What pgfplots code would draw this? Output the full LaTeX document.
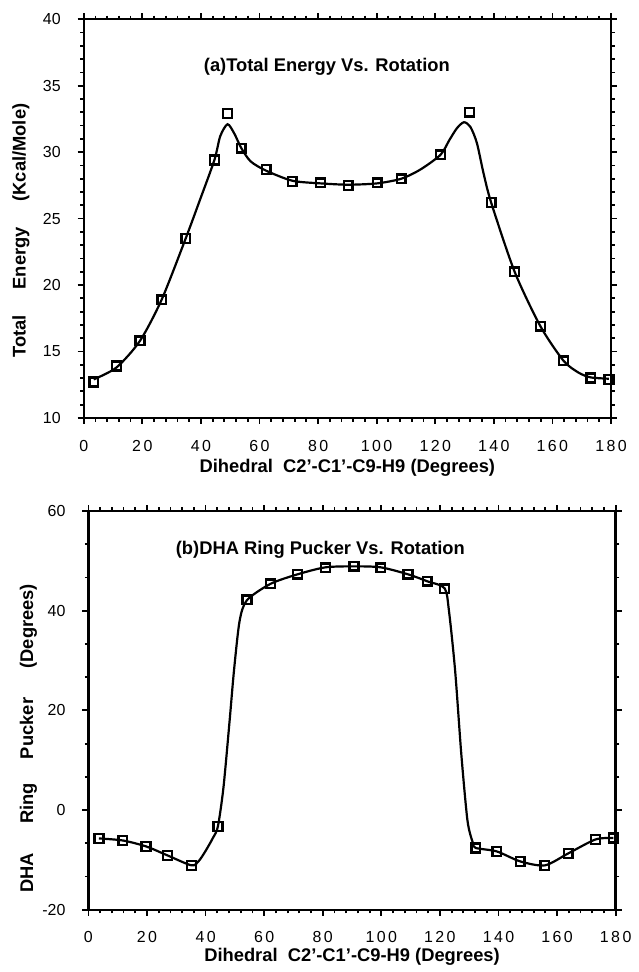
\documentclass[border=0pt]{standalone}
\usepackage{fontspec}
\setmainfont{Liberation Sans}
\usepackage{pgfplots}
\pgfplotsset{compat=1.18}

% shared look of both panels
\pgfplotsset{
  panel/.style={
    width=264.5pt, height=200pt, scale only axis,
    xmin=0, xmax=180, xtick={0,20,...,180}, minor x tick num=4,
    tick align=outside, axis line style={line width=1.2pt},
    major tick length=3pt, minor tick length=1.8pt,
    every tick/.style={black, line width=0.9pt},
    /pgf/number format/assume math mode=true,
    ticklabel style={font=\fontsize{8}{9}\selectfont},
    xticklabel style={font=\fontsize{8}{9}\selectfont\addfontfeature{LetterSpace=15}, yshift=-4.5pt},
    yticklabel style={xshift=-5pt},
    label style={font=\bfseries\fontsize{9.2}{11}\selectfont},
    xlabel={Dihedral\ \ C2'-C1'-C9-H9 (Degrees)},
    clip=false,
  },
  dots/.style={only marks, mark=square, mark size=2.2pt,
    mark options={fill=white, line width=1.25pt, black}},
  fit/.style={black, line width=1.1pt, smooth, tension=0.45, no marks},
}

\begin{document}
\begin{tikzpicture}
\path (-42pt,-276.35pt) rectangle (274pt,209.65pt);

% (a) total energy
\begin{axis}[panel, at={(0,0)}, anchor=south west,
  ymin=10, ymax=40, ytick={10,15,...,40}, minor y tick num=4,
  xlabel style={at={(axis description cs:0.5,-0.125)}, anchor=center},
  ylabel={Total\hspace{1.4em}Energy\hspace{1.4em}(Kcal/Mole)},
  ylabel style={at={(axis description cs:-0.119,0.47)}, anchor=center}]
\addplot[fit] coordinates {
 (3.4,12.9) (11.2,13.8) (19.2,15.8) (26.6,18.9) (34.8,23.5) (39.5,26.3)
 (44.6,29.4) (46.6,31.2) (49.1,32.1) (51.4,31.4) (53.8,30.3) (57,29.3)
 (62.3,28.6) (71.2,27.85) (80.8,27.65) (90.3,27.55) (100.2,27.65) (108.4,28.0)
 (115,28.7) (121.8,29.8) (124.8,30.9) (127.4,31.8) (129.8,32.25) (132,31.9)
 (134.2,30.7) (136.5,28.4) (139.1,26.2) (147.1,21.0) (155.9,16.9) (163.8,14.3)
 (169,13.4) (173.1,13.05) (179.3,12.95)
};
\addplot[dots] coordinates {
 (3.4,12.7) (11.2,13.9) (19.2,15.8) (26.6,18.9) (34.8,23.5) (44.6,29.4)
 (49.1,32.9) (53.8,30.3) (62.3,28.7) (71.2,27.8) (80.8,27.7) (90.3,27.5)
 (100.2,27.7) (108.4,28.0) (121.8,29.8) (131.7,33.0) (139.1,26.2) (147.1,21.0)
 (155.9,16.9) (163.8,14.3) (173.1,13.0) (179.3,12.9)
};
\node[font=\bfseries\fontsize{9.2}{11}\selectfont] at (axis cs:83,36.4) {(a)Total Energy Vs. Rotation};
\end{axis}

% (b) ring pucker
\begin{axis}[panel, at={(2.35pt,-246.7pt)}, anchor=south west,
  ymin=-20, ymax=60, ytick={-20,0,...,60}, minor y tick num=2,
  xlabel style={at={(axis description cs:0.5,-0.118)}, anchor=center},
  ylabel={DHA\hspace{1.6em}Ring\hspace{1.3em}Pucker\hspace{1.6em}(Degrees)},
  ylabel style={at={(axis description cs:-0.114,0.43)}, anchor=center}]
\addplot[fit] coordinates {
 (3.6,-5.7) (11.7,-6.1) (19.7,-7.3) (27,-9.1) (35.2,-11.1) (37.7,-10.2)
 (40,-8.2) (42.5,-5.6) (44.2,-3.3) (46.1,4.5) (48.2,17.9) (49.7,28)
 (51.6,37.9) (54.1,42.1) (62.2,45.4) (71.4,47.3) (80.9,48.7) (90.7,48.9)
 (99.8,48.7) (109.1,47.3) (115.7,45.9) (121.6,44.5) (123.1,39.9) (125.2,27.9)
 (127.3,11.2) (129.4,-2.1) (131.2,-6.5) (132.2,-7.6) (139.4,-8.3) (147.4,-10.3)
 (155.8,-11.1) (163.8,-8.7) (173.1,-5.9) (179.2,-5.6)
};
\addplot[dots] coordinates {
 (3.6,-5.7) (11.7,-6.1) (19.7,-7.3) (27,-9.1) (35.2,-11.1) (44.2,-3.3)
 (54.1,42.2) (62.2,45.4) (71.4,47.3) (80.9,48.6) (90.7,48.9) (99.8,48.6)
 (109.1,47.3) (115.7,45.9) (121.6,44.4) (132.2,-7.6) (139.4,-8.3) (147.4,-10.3)
 (155.8,-11.1) (163.8,-8.7) (173.1,-5.9) (179.2,-5.6)
};
\node[font=\bfseries\fontsize{9.2}{11}\selectfont] at (axis cs:79.2,52.2) {(b)DHA Ring Pucker Vs. Rotation};
\end{axis}
\end{tikzpicture}
\end{document}
